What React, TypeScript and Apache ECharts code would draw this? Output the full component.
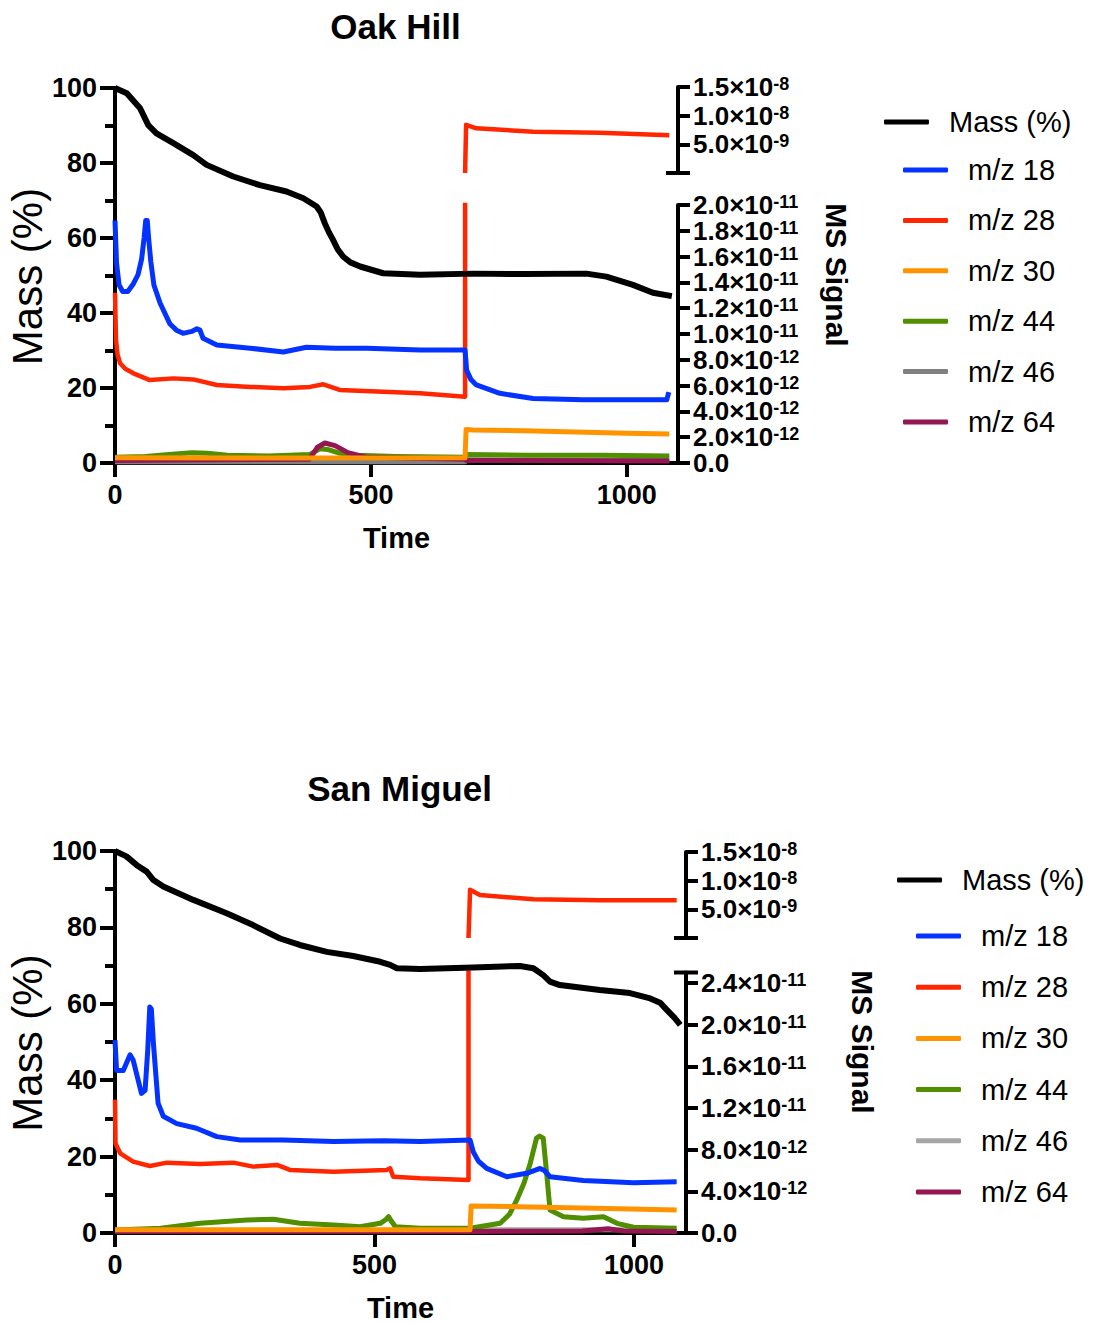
import React, { useEffect, useRef } from 'react';
import * as echarts from 'echarts';

const FONT = '"Liberation Sans", Arial, Helvetica, sans-serif';

// ---------- labels / ticks ----------
const seriesNames = ['Mass (%)', 'm/z 18', 'm/z 28', 'm/z 30', 'm/z 44', 'm/z 46', 'm/z 64'];
const timeTicks = [0, 500, 1000];
const massTicks = [0, 20, 40, 60, 80, 100];
const oakLowTicks = [0, 2, 4, 6, 8, 10, 12, 14, 16, 18, 20]; // x1e-12
const sanLowTicks = [0, 4, 8, 12, 16, 20, 24]; // x1e-12
const highTicks = [0, 5000, 10000, 15000]; // x1e-12

// ---------- Oak Hill data (time, value); MS values in units of 1e-12 ----------
const oakMass = [[0,100],[23,98.6],[49,94.6],[65,90.1],[81,87.9],[114,85.3],[153,82.1],[179,79.5],[231,76.4],[283,74.1],[335,72.4],[368,70.6],[394,68.4],[402,66.8],[410,63.9],[418,61.5],[426,59.5],[435,57.0],[446,55.0],[460,53.5],[479,52.4],[524,50.6],[596,50.2],[700,50.5],[800,50.4],[921,50.5],[960,49.7],[1012,47.5],[1051,45.4],[1088,44.5]];
const oakMz18 = [[0,18.8],[3,15.5],[8,13.8],[15,13.3],[25,13.3],[36,13.9],[45,14.6],[52,15.8],[57,17.5],[60,18.8],[63,18.8],[66,17.3],[70,15.6],[76,13.8],[88,12.4],[107,10.8],[120,10.3],[133,10.05],[150,10.2],[160,10.4],[166,10.3],[172,9.67],[199,9.15],[264,8.9],[329,8.6],[374,8.97],[430,8.9],[492,8.9],[596,8.76],[684,8.76],[687,7.2],[695,6.5],[706,6.05],[752,5.4],[817,5.0],[915,4.9],[1012,4.9],[1078,4.9],[1082,5.5]];
const oakMz28 = [[0,13.2],[2,9.5],[5,8.4],[10,7.73],[20,7.3],[36,6.95],[68,6.43],[114,6.56],[153,6.48],[199,6.05],[264,5.9],[329,5.8],[381,5.9],[407,6.1],[439,5.66],[524,5.53],[596,5.4],[684,5.14],[686,8400],[706,7800],[817,7200],[947,7000],[1083,6600]];
const oakMz30 = [[0,0.4],[300,0.38],[684,0.4],[686,2.6],[700,2.55],[800,2.5],[900,2.4],[1000,2.3],[1083,2.25]];
const oakMz44 = [[0,0.45],[60,0.5],[100,0.65],[150,0.8],[180,0.75],[220,0.6],[300,0.55],[380,0.65],[400,1.1],[415,1.05],[440,0.75],[470,0.6],[550,0.5],[684,0.45],[686,0.65],[800,0.6],[950,0.6],[1083,0.55]];
const oakMz46 = [[0,0.1],[684,0.1],[686,0.25],[1083,0.2]];
const oakMz64 = [[0,0.2],[380,0.3],[395,1.2],[410,1.55],[430,1.35],[455,0.8],[490,0.45],[684,0.3],[686,0.2],[1083,0.15]];

// ---------- San Miguel data ----------
const sanMass = [[0,100],[22,98.6],[42,96.3],[61,94.6],[74,92.4],[93,90.7],[151,87.2],[215,83.7],[266,80.6],[318,77.1],[356,75.4],[408,73.6],[459,72.5],[511,71.0],[530,70.2],[543,69.3],[588,69.1],[690,69.5],[780,69.9],[806,69.3],[825,67.5],[838,65.8],[857,64.9],[934,63.6],[992,62.8],[1031,61.4],[1050,60.3],[1063,58.4],[1078,56.3],[1089,54.5]];
const sanMz18 = [[0,18.5],[3,15.6],[16,15.6],[29,17.1],[35,16.6],[51,13.4],[58,13.7],[63,17.5],[67,21.7],[70,21.5],[74,18.2],[83,12.45],[93,11.2],[119,10.5],[157,10.05],[196,9.25],[241,8.93],[324,8.93],[421,8.77],[517,8.86],[588,8.77],[684,8.93],[690,7.8],[700,6.9],[716,6.2],[755,5.4],[793,5.73],[819,6.2],[827,6.0],[838,5.4],[902,5.04],[999,4.83],[1082,4.93]];
const sanMz28 = [[0,12.8],[1,8.6],[10,7.65],[35,6.85],[67,6.43],[100,6.75],[164,6.62],[228,6.75],[266,6.37],[312,6.53],[337,6.05],[421,5.88],[523,6.05],[530,6.2],[536,5.4],[588,5.25],[681,5.09],[684,8400],[703,7500],[806,6750],[934,6600],[1082,6600]];
const sanMz30 = [[0,0.3],[684,0.3],[686,2.6],[800,2.5],[950,2.35],[1082,2.2]];
const sanMz44 = [[0,0.3],[88,0.45],[164,0.93],[254,1.25],[305,1.32],[356,0.93],[421,0.77],[472,0.6],[511,0.93],[522,1.3],[527,1.57],[533,1.1],[540,0.6],[588,0.45],[678,0.45],[690,0.5],[742,0.93],[760,1.8],[774,3.17],[788,4.8],[800,6.7],[812,9.1],[818,9.3],[825,9.1],[832,5.5],[838,2.2],[864,1.57],[902,1.41],[941,1.57],[967,0.93],[999,0.55],[1082,0.45]];
const sanMz46 = [[0,0.15],[684,0.15],[686,0.3],[1000,0.3],[1082,0.25]];
const sanMz64 = [[0,0.15],[684,0.15],[900,0.2],[950,0.4],[980,0.2],[1082,0.15]];

const COLORS = ['#000000', '#0433FF', '#FF2600', '#FF9300', '#4F8F00', '#808080', '#941751'];
const COLORS2 = ['#000000', '#0433FF', '#FF2600', '#FF9300', '#4F8F00', '#A6A6A6', '#941751'];

const rich = {
  b: { fontSize: 26, fontWeight: 'bold', fontFamily: FONT, color: '#000', lineHeight: 24 },
  s: { fontSize: 18, fontWeight: 'bold', fontFamily: FONT, color: '#000', lineHeight: 4, verticalAlign: 'top' },
};

function msLabel(v: number) {
  if (v === 0) return '{b|0.0}';
  let m = v;
  let e = -12;
  while (m >= 10 - 1e-9) { m /= 10; e++; }
  return `{b|${m.toFixed(1)}×10}{s|${e}}`;
}

type Panel = {
  title: string; left: number; width: number; massTop: number; bottom: number;
  lowMax: number; lowTicks: number[]; highTop: number; highBottom: number;
  data: number[][][]; colors: string[];
  legendA: [number, number]; legendB: [number, number]; legendGap: number;
  msCenter: [number, number]; titleTop: number;
};

const panels: Panel[] = [
  {
    title: 'Oak Hill', left: 115, width: 563, massTop: 88, bottom: 463,
    lowMax: 20, lowTicks: oakLowTicks, highTop: 87, highBottom: 173,
    data: [oakMass, oakMz18, oakMz28, oakMz30, oakMz44, oakMz46, oakMz64], colors: COLORS,
    legendA: [884, 107], legendB: [903, 155], legendGap: 20.4,
    msCenter: [836, 275], titleTop: 9,
  },
  {
    title: 'San Miguel', left: 115, width: 571, massTop: 851, bottom: 1233,
    lowMax: 25, lowTicks: sanLowTicks, highTop: 852, highBottom: 938,
    data: [sanMass, sanMz18, sanMz28, sanMz30, sanMz44, sanMz46, sanMz64], colors: COLORS2,
    legendA: [897, 865], legendB: [916, 921], legendGap: 21.2,
    msCenter: [862, 1042], titleTop: 771,
  },
];

const X_MAX = 1100;
const LOW_PX_PER_UNIT = [12.9, 10.42];

function buildOption() {
  const grid: any[] = [], xAxis: any[] = [], yAxis: any[] = [], series: any[] = [];
  const legend: any[] = [], title: any[] = [], graphic: any[] = [];
  const axisLine = { show: true, onZero: false, lineStyle: { color: '#000', width: 4 } };
  const labelStyle = { fontSize: 27, fontWeight: 'bold', fontFamily: FONT, color: '#000' };
  const gridBase = { containLabel: false, outerBoundsMode: 'none' };

  panels.forEach((p, pi) => {
    const g0 = pi * 3;
    const y0 = pi * 4;
    const lowHeight = p.lowMax * LOW_PX_PER_UNIT[pi];
    grid.push({ ...gridBase, left: p.left, top: p.massTop, width: p.width, height: p.bottom - p.massTop });
    grid.push({ ...gridBase, left: p.left, top: p.bottom - lowHeight, width: p.width, height: lowHeight });
    grid.push({ ...gridBase, left: p.left, top: p.highTop, width: p.width, height: p.highBottom - p.highTop });

    xAxis.push({
      type: 'value', gridIndex: g0, min: 0, max: X_MAX, interval: 500,
      axisLine, splitLine: { show: false },
      axisTick: { show: true, length: 14, lineStyle: { width: 4, color: '#000' }, customValues: timeTicks },
      axisLabel: { ...labelStyle, margin: 18, customValues: timeTicks, formatter: (v: number) => String(v) },
      name: 'Time', nameLocation: 'middle', nameGap: 60,
      nameTextStyle: { fontSize: 29, fontWeight: 'bold', fontFamily: FONT, color: '#000' },
    });
    xAxis.push({ type: 'value', gridIndex: g0 + 1, min: 0, max: X_MAX, show: false });
    xAxis.push({ type: 'value', gridIndex: g0 + 2, min: 0, max: X_MAX, show: false });

    // y0: Mass (left)
    yAxis.push({
      type: 'value', gridIndex: g0, min: 0, max: 100, interval: 20, position: 'left',
      axisLine, splitLine: { show: false },
      axisTick: { show: true, length: 15, lineStyle: { width: 4, color: '#000' }, customValues: massTicks },
      minorTick: { show: true, splitNumber: 2, length: 10, lineStyle: { width: 4, color: '#000' } },
      axisLabel: { ...labelStyle, margin: 18, customValues: massTicks },
    });
    // y0+1 / y0+2: lower MS segment, labels split in two alternating sets so none get hidden
    const evenTicks = p.lowTicks.filter((_, i) => i % 2 === 0);
    const oddTicks = p.lowTicks.filter((_, i) => i % 2 === 1);
    yAxis.push({
      type: 'value', gridIndex: g0 + 1, min: 0, max: p.lowMax, interval: p.lowTicks[1], position: 'right',
      axisLine, splitLine: { show: false },
      axisTick: { show: true, length: 12, lineStyle: { width: 4, color: '#000' }, customValues: p.lowTicks },
      axisLabel: { margin: 15, customValues: evenTicks, showMaxLabel: true, showMinLabel: true, formatter: (v: number) => msLabel(v), rich },
    });
    yAxis.push({
      type: 'value', gridIndex: g0 + 1, min: 0, max: p.lowMax, interval: p.lowTicks[1], position: 'right',
      axisLine: { show: false, onZero: false }, splitLine: { show: false }, axisTick: { show: false },
      axisLabel: { margin: 15, customValues: oddTicks, showMaxLabel: true, showMinLabel: true, formatter: (v: number) => msLabel(v), rich },
    });
    // y0+3: upper MS segment
    yAxis.push({
      type: 'value', gridIndex: g0 + 2, min: 0, max: 15000, interval: 5000, position: 'right',
      axisLine, splitLine: { show: false },
      axisTick: { show: true, length: 12, lineStyle: { width: 4, color: '#000' }, customValues: highTicks },
      axisLabel: { margin: 15, customValues: highTicks, showMaxLabel: true, formatter: (v: number) => (v === 0 ? '' : msLabel(v)), rich },
    });

    const mk = (idx: number, data: number[][], xi: number, yi: number, width: number) => ({
      type: 'line', name: seriesNames[idx], data, xAxisIndex: xi, yAxisIndex: yi,
      showSymbol: false, symbol: 'none', clip: true, silent: true,
      lineStyle: { color: p.colors[idx], width, join: 'round' }, itemStyle: { color: p.colors[idx] },
    });
    // draw order: 46, 44, 64, 30, 28, 18, Mass
    series.push(mk(5, p.data[5], g0 + 1, y0 + 1, 5));
    series.push(mk(4, p.data[4], g0 + 1, y0 + 1, 5));
    series.push(mk(6, p.data[6], g0 + 1, y0 + 1, 5));
    series.push(mk(3, p.data[3], g0 + 1, y0 + 1, 5));
    series.push(mk(2, p.data[2], g0 + 1, y0 + 1, 4.5));
    const mz28 = p.data[2];
    const j = mz28.findIndex((d) => d[1] > 1000);
    series.push(mk(2, mz28.slice(j - 1), g0 + 2, y0 + 3, 4.5));
    series.push(mk(1, p.data[1], g0 + 1, y0 + 1, 5));
    series.push(mk(0, p.data[0], g0, y0, 6));

    const legendText = { fontSize: 29, fontFamily: FONT, color: '#000', lineHeight: 30, padding: [0, 0, 0, 15] };
    legend.push({
      orient: 'vertical', left: p.legendA[0], top: p.legendA[1], padding: 0,
      itemWidth: 45, itemHeight: 5, icon: 'roundRect', selectedMode: false, textStyle: legendText,
      data: [{ name: seriesNames[0], itemStyle: { color: p.colors[0] } }],
    });
    legend.push({
      orient: 'vertical', left: p.legendB[0], top: p.legendB[1], padding: 0,
      itemWidth: 45, itemHeight: 5, itemGap: p.legendGap, icon: 'roundRect', selectedMode: false, textStyle: legendText,
      data: seriesNames.slice(1).map((n, i) => ({ name: n, itemStyle: { color: p.colors[i + 1] } })),
    });

    title.push({
      text: p.title, left: p.left + p.width / 2 - 1, top: p.titleTop, textAlign: 'center', padding: 0,
      textStyle: { fontSize: 35, fontWeight: 'bold', fontFamily: FONT, color: '#000' },
    });

    graphic.push({
      type: 'text', x: 27, y: (p.massTop + p.bottom) / 2 + 1, rotation: Math.PI / 2,
      style: { text: 'Mass (%)', fontSize: 42, fontFamily: FONT, fill: '#000', textAlign: 'center', textVerticalAlign: 'middle' },
    });
    graphic.push({
      type: 'text', x: p.msCenter[0], y: p.msCenter[1], rotation: -Math.PI / 2,
      style: { text: 'MS Signal', fontSize: 30, fontWeight: 'bold', fontFamily: FONT, fill: '#000', textAlign: 'center', textVerticalAlign: 'middle' },
    });
    const ax = p.left + p.width;
    // axis break caps
    graphic.push({ type: 'line', shape: { x1: ax - 12, y1: p.highBottom, x2: ax + 12, y2: p.highBottom }, style: { stroke: '#000', lineWidth: 4 } });
    if (pi === 1) {
      const lt = p.bottom - lowHeight;
      graphic.push({ type: 'line', shape: { x1: ax - 12, y1: lt, x2: ax + 12, y2: lt }, style: { stroke: '#000', lineWidth: 4 } });
    }
  });

  return { animation: false, backgroundColor: '#fff', grid, xAxis, yAxis, series, legend, title, graphic };
}

export default function App() {
  const ref = useRef<HTMLDivElement>(null);
  useEffect(() => {
    if (!ref.current) return;
    const chart = echarts.init(ref.current, undefined, { renderer: 'svg' });
    chart.setOption(buildOption() as any);
    return () => chart.dispose();
  }, []);
  return <div ref={ref} style={{ position: 'absolute', left: 0, top: 0, width: 1095, height: 1324, background: '#fff' }} />;
}
